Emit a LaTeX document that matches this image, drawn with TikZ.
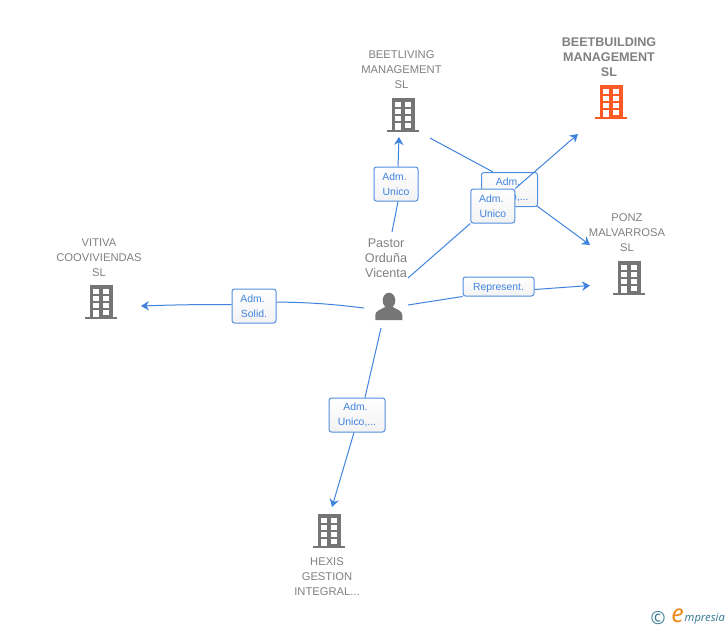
\documentclass[tikz,border=0pt]{standalone}
\usepackage{fontspec}
\setmainfont{Liberation Sans}
\newfontfamily\logofont{Noto Sans}
\usetikzlibrary{arrows.meta,positioning}
\definecolor{linkblue}{HTML}{3F83DE}
\definecolor{iconorange}{HTML}{FF5A26}
\definecolor{icongray}{HTML}{757575}
\definecolor{textgray}{HTML}{808080}
\definecolor{logoblue}{HTML}{3C7C98}
\definecolor{logoorange}{HTML}{F08A1E}

\begin{document}
\begin{tikzpicture}[
		x=1pt,y=-1pt,
		company/.style={inner sep=0pt,align=center,text=textgray,font=\fontsize{11.2}{15}\selectfont},
		companymain/.style={company,font=\fontsize{12.6}{15}\selectfont\bfseries},
		person/.style={inner sep=0pt,align=center,text=textgray,font=\fontsize{12.6}{15}\selectfont},
		role/.style={draw=linkblue!90!white,line width=1pt,rounded corners=2.5pt,top color=white,bottom color=gray!10,
			inner sep=0pt,align=center,text=linkblue,font=\fontsize{10.4}{15}\selectfont},
		link/.style={linkblue,line width=1pt},
		linkto/.style={link,-{Stealth[length=8pt,width=9.5pt]}},
		pics/building/.style={code={
			\fill[#1] (-11.5,-34) rectangle (11.5,0);
			\fill[#1] (-16,-2) rectangle (16,0);
			\foreach \wx in {-8,2.3} \foreach \wy in {-30,-23,-16}
				\fill[white] (\wx,\wy) rectangle ++(5.7,5);
			\fill[white] (-8,-9.5) rectangle (-2.3,-2);
			\fill[white] (2.3,-9.5) rectangle (8,-4.5);
		}}
		]
		\useasboundingbox (0,0) rectangle (728,630);
		
		% Free ends of the connectors
		\coordinate (pastorUp) at (392,232);
		\coordinate (pastorLiving) at (430,138);
		\coordinate (pastorBuilding) at (408,278);
		\coordinate (pastorPonz) at (408,305);
		\coordinate (pastorVitiva) at (364,308);
		\coordinate (pastorHexis) at (381,328);
		\coordinate (tipLiving) at (399,137);
		\coordinate (tipBuilding) at (578,134);
		\coordinate (tipPonzA) at (590,245);
		\coordinate (tipPonzB) at (590,285.5);
		\coordinate (tipVitiva) at (141,306);
		\coordinate (tipHexis) at (332,507);
		
		% Buildings
		\pic (bldLiving) at (403,132) {building=icongray};
		\pic (bldBuilding) at (611,119) {building=iconorange};
		\pic (bldPonz) at (629,295) {building=icongray};
		\pic (bldVitiva) at (101,319) {building=icongray};
		\pic (bldHexis) at (329,548) {building=icongray};
		
		% Person
		\fill[icongray] (389,300.5) ellipse (6.3 and 7.8);
		\fill[icongray] (375.3,320) -- (375.3,315) .. controls (375.5,311) and (380,310) .. (385,307)
			-- (393,307) .. controls (398,310) and (402,311) .. (402.3,315) -- (402.3,320) -- cycle;
		
		% Names
		\node[company] (nameLiving) at (401.5,70) {BEETLIVING\\MANAGEMENT\\SL};
		\node[companymain] (nameBuilding) at (609,57) {BEETBUILDING\\MANAGEMENT\\SL};
		\node[company] (namePonz) at (627,233) {PONZ\\MALVARROSA\\SL};
		\node[company] (nameVitiva) at (99,258) {VITIVA\\COOVIVIENDAS\\SL};
		\node[company] (nameHexis) at (327,577) {HEXIS\\GESTION\\INTEGRAL...};
		\node[person] (namePastor) at (386,258) {Pastor\\Orduña\\Vicenta};
		
		% Connectors, the two boxes in the middle overlap
		\node[role,minimum width=44pt,minimum height=34pt] (roleLiving) at (396,184) {Adm.\hspace*{3pt}\\Unico};
		\node[role,minimum width=71pt,minimum height=19pt,text height=10.6pt,text depth=2pt] (rolePonz) at (498.5,286.5) {Represent.};
		\node[role,minimum width=44pt,minimum height=34pt] (roleVitiva) at (254,306) {Adm.\hspace*{3pt}\\Solid.};
		\node[role,minimum width=56pt,minimum height=34pt] (roleHexis) at (357,415) {Adm.\hspace*{3pt}\\Unico,...};
		
		\draw[link] (pastorUp) -- ([xshift=2pt]roleLiving.south);
		\draw[linkto] ([xshift=2pt]roleLiving.north) -- (tipLiving);
		\draw[link] (pastorPonz) -- (rolePonz.south west);
		\draw[linkto] ([yshift=-3pt]rolePonz.east) -- (tipPonzB);
		\draw[link] (pastorVitiva) to[bend right=3] ([yshift=4pt]roleVitiva.east);
		\draw[linkto] ([yshift=1.5pt]roleVitiva.west) to[bend right=1] (tipVitiva);
		\draw[link] (pastorHexis) -- ([xshift=8pt]roleHexis.north);
		\draw[linkto] ([xshift=-3pt]roleHexis.south) -- (tipHexis);
		
		\draw[link] (pastorLiving) -- (493,172);
		\draw[linkto] (537,206) -- (tipPonzA);
		\node[role,minimum width=56pt,minimum height=34pt] (rolePonzB) at (509.5,189.5) {Adm.\hspace*{3pt}\\Unico,...};
		\node[role,minimum width=44pt,minimum height=34pt] (roleBuilding) at (492.8,206) {Adm.\hspace*{3pt}\\Unico};
		\draw[link] (pastorBuilding) -- (roleBuilding.south west);
		\draw[linkto] (roleBuilding.north east) -- (tipBuilding);
		
		% Logo
		\node[inner sep=0pt,text=logoblue,font=\logofont\fontsize{18}{18}\selectfont] (logoMark) at (658,618.5) {©};
		\node[inner sep=0pt,text=logoorange,font=\logofont\itshape\fontsize{25}{25}\selectfont] (logoE) at (677.5,616) {e};
		\node[inner sep=0pt,anchor=west,text=logoblue,font=\logofont\itshape\fontsize{11.2}{12}\selectfont] (logoText) at (684.5,619) {mpresia};
		\end{tikzpicture}
\end{document}
